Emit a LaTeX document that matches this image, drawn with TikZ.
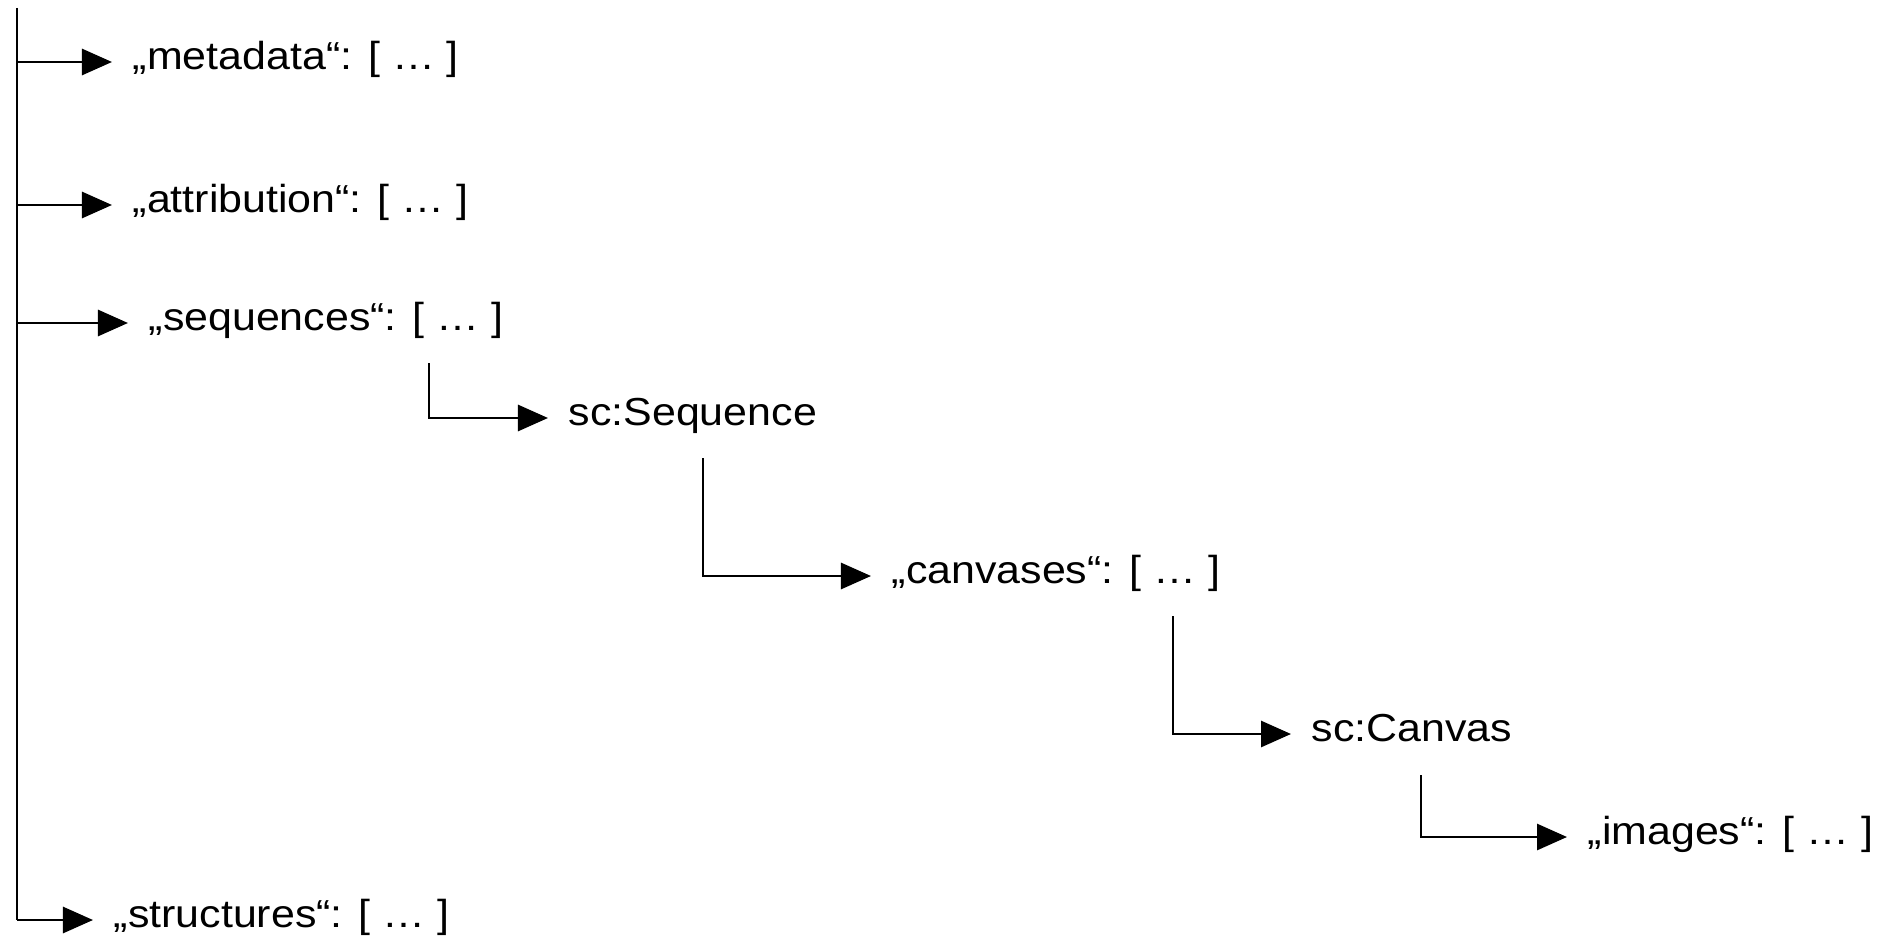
\documentclass[tikz,border=0pt]{standalone}
\usepackage{fontspec}
\setmainfont[FakeStretch=1.1]{Liberation Sans}
\usetikzlibrary{arrows.meta}
\tikzset{
 karr/.style={-{Triangle[length=0.3cm,width=0.26cm]},line width=0.8pt},
 klbl/.style={anchor=west,inner xsep=0.2cm,inner ysep=0pt,text height=0.7em,text depth=0.3em,font=\fontsize{11.1}{13}\selectfont},
}
\begin{document}
\begin{tikzpicture}[x=0.01cm,y=-0.01cm]
\useasboundingbox (0,0) rectangle (1898,940);
\coordinate (ktop) at (17,8);
\coordinate (kbot) at (17,920);
\draw[line width=0.8pt] (ktop)--(kbot);
\foreach \kname/\kx/\ky/\klb in {meta/112/62/{„metadata“: [ … ]},attr/112/205/{„attribution“: [ … ]},seqs/128/323/{„sequences“: [ … ]},strc/93/920/{„structures“: [ … ]}}{
 \node[klbl] (\kname) at (\kx,\ky) {\klb};
 \draw[karr] (\kname.west -| ktop) -- (\kname.west);
}
\coordinate (kq) at (429,363);
\node[klbl] (sequence) at (548,418) {sc:Sequence};
\draw[karr] (kq) |- (sequence.west);
\coordinate (kc) at (703,458);
\node[klbl] (canvases) at (871,576) {„canvases“: [ … ]};
\draw[karr] (kc) |- (canvases.west);
\coordinate (kv) at (1173,616);
\node[klbl] (canvas) at (1291,734) {sc:Canvas};
\draw[karr] (kv) |- (canvas.west);
\coordinate (ki) at (1421,775);
\node[klbl] (images) at (1567,837) {„images“: [ … ]};
\draw[karr] (ki) |- (images.west);
\end{tikzpicture}
\end{document}
